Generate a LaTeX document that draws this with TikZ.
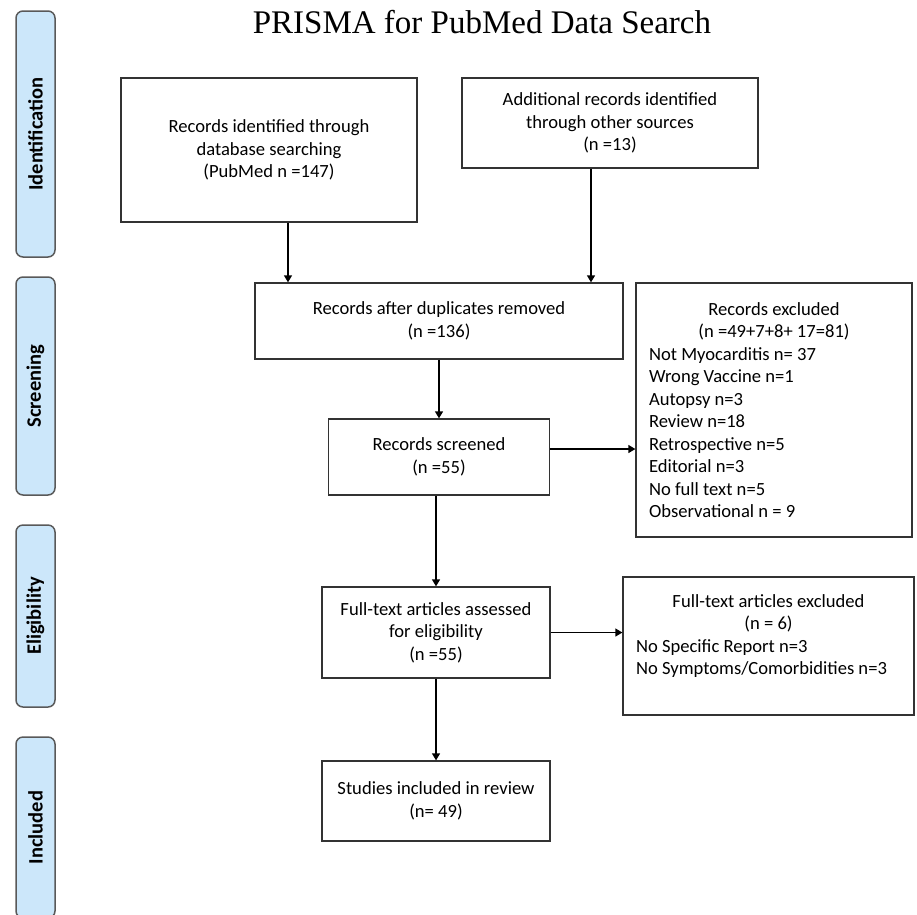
\documentclass[tikz,border=0pt]{standalone}
\usepackage{fontspec}
\setmainfont{Carlito}
\newfontfamily\titlefont{Liberation Serif}
\usetikzlibrary{arrows.meta}
\definecolor{barblue}{HTML}{CCE7FA}

\begin{document}
\begin{tikzpicture}[x=1pt, y=-1pt,
  box/.style={draw=black!80, line width=1.3pt, align=center, font=\fontsize{18.6}{22.5}\selectfont},
  list/.style={box, align=flush left, inner xsep=13pt},
  bar/.style={draw=black!65, fill=barblue, line width=1.5pt, rounded corners=7pt, rotate=90, minimum height=39pt, font=\bfseries\fontsize{20.5}{24}\selectfont},
  arr/.style={-{Triangle[length=7pt, width=8pt]}, line width=1.3pt}]
  \useasboundingbox (0,0) rectangle (917,914);
  \clip (0,0) rectangle (917,914);

  % Coordinates
  \coordinate (T) at (482, 33);
  \coordinate (A) at (35.5, 134);
  \coordinate (B) at (35.5, 386);
  \coordinate (C) at (35.5, 616);
  \coordinate (D) at (35.5, 827.5);
  \coordinate (E) at (269, 150);
  \coordinate (F) at (610, 123);
  \coordinate (G) at (439, 321);
  \coordinate (H) at (439, 457);
  \coordinate (I) at (774, 410);
  \coordinate (J) at (436, 632.5);
  \coordinate (K) at (768.5, 646);
  \coordinate (L) at (436, 801);
  \coordinate (M) at (288, 0);
  \coordinate (N) at (591, 0);
  \coordinate (O) at (0, 449);

  % Drawing
  \node[font=\titlefont\fontsize{33}{40}\selectfont, anchor=base] (title) at (T) {PRISMA for PubMed Data Search};
  \node[bar, minimum width=246pt] (barid) at (A) {Identification};
  \node[bar, minimum width=218pt] (barscr) at (B) {Screening};
  \node[bar, minimum width=182pt] (barelig) at (C) {Eligibility};
  \node[bar, minimum width=181pt] (barinc) at (D) {Included};
  \node[box, minimum width=296pt, minimum height=144pt] (ident) at (E) {Records identified through\\ database searching\\ (PubMed n =147)};
  \node[box, minimum width=296pt, minimum height=90pt] (other) at (F) {Additional records identified\\ through other sources\\ (n =13)};
  \node[box, minimum width=368pt, minimum height=76pt] (dup) at (G) {Records after duplicates removed\\ (n =136)};
  \node[box, minimum width=221pt, minimum height=76pt] (screen) at (H) {Records screened\\ (n =55)};
  \node[list, text width=250pt, minimum height=254pt] (excl) at (I) {\makebox[250pt]{Records excluded}\\ \makebox[250pt]{(n =49+7+8+ 17=81)}\\ Not Myocarditis n= 37\\ Wrong Vaccine n=1\\ Autopsy n=3\\ Review n=18\\ Retrospective n=5\\ Editorial n=3\\ No full text n=5\\ Observational n = 9};
  \node[box, minimum width=228pt, minimum height=91pt] (full) at (J) {Full-text articles assessed\\ for eligibility\\ (n =55)};
  \node[list, text width=265pt, minimum height=138pt] (fullexcl) at (K) {\makebox[265pt]{Full-text articles excluded}\\ \makebox[265pt]{(n = 6)}\\ No Specific Report n=3\\ No Symptoms/Comorbidities n=3\\ \mbox{}};
  \node[box, minimum width=228pt, minimum height=80pt] (incl) at (L) {Studies included in review\\ (n= 49)};
  \draw[arr] (ident.south -| M) -- (dup.north -| M);
  \draw[arr] (other.south -| N) -- (dup.north -| N);
  \draw[arr] (dup.south) -- (screen.north);
  \draw[arr] (screen.east |- O) -- (excl.west |- O);
  \draw[arr] (screen.south -| full.north) -- (full.north);
  \draw[arr] (full.east) -- (full.east -| fullexcl.west);
  \draw[arr] (full.south) -- (incl.north);
\end{tikzpicture}
\end{document}
